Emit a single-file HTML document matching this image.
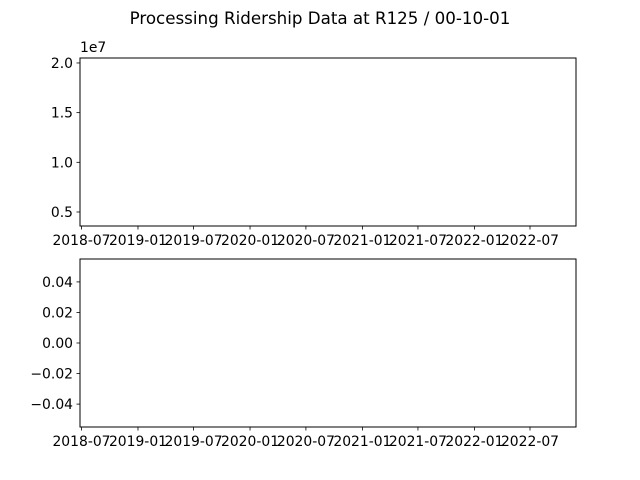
<!DOCTYPE html>
<html><head><meta charset="utf-8"><style>
html,body{margin:0;padding:0;background:#fff;}
svg{display:block;font-family:"DejaVu Sans","Liberation Sans",sans-serif;}
</style></head><body>
<svg id="c" width="640" height="480" xmlns="http://www.w3.org/2000/svg">
<text x="320" y="24" text-anchor="middle" font-size="16.7">Processing Ridership Data at R125 / 00-10-01</text>
<g id="ax1"></g>
<g id="ax2"></g>
</svg>
<script>
const xTickLabels = ["2018-07","2019-01","2019-07","2020-01","2020-07","2021-01","2021-07","2022-01","2022-07"];
const xTickDates = ["2018-07-01","2019-01-01","2019-07-01","2020-01-01","2020-07-01","2021-01-01","2021-07-01","2022-01-01","2022-07-01"];
const topYTicks = [0.5, 1.0, 1.5, 2.0];
const topYTickLabels = ["0.5","1.0","1.5","2.0"];
const botYTicks = [-0.04, -0.02, 0, 0.02, 0.04];
const botYTickLabels = ["\u22120.04","\u22120.02","0.00","0.02","0.04"];
const topSeries = [];
const botSeries = [];

const NS = "http://www.w3.org/2000/svg";
const L = 80, R = 576;
const d0 = Date.parse("2018-07-01"), d1 = Date.parse("2022-07-01");
function xScale(s){ return 81.5 + (Date.parse(s) - d0) / (d1 - d0) * (530 - 81.5); }
function mk(tag, attrs, parent){ const e=document.createElementNS(NS,tag); for(const k in attrs) e.setAttribute(k,attrs[k]); parent.appendChild(e); return e; }

function drawAxes(g, top, bot, ymin, ymax, yt, ytl, prefix){
  const yS = v => bot - (v - ymin) / (ymax - ymin) * (bot - top);
  const frame = mk("rect",{x:L,y:top,width:R-L,height:bot-top,fill:"none",stroke:"#000","stroke-width":1},g);
  
  
  yt.forEach((v,i)=>{
    const y=yS(v);
    const t=mk("line",{x1:L-3.5,x2:L,y1:y,y2:y,stroke:"#000","stroke-width":0.8},g);
    
    
    const tx=mk("text",{x:L-7,y:y+5,"text-anchor":"end","font-size":13.9},g);
    tx.textContent=ytl[i];
    
    
  });
  xTickDates.forEach((d,i)=>{
    const x=xScale(d);
    const t=mk("line",{x1:x,x2:x,y1:bot,y2:bot+3.5,stroke:"#000","stroke-width":0.8},g);
    
    
    const tx=mk("text",{x:x,y:bot+19,"text-anchor":"middle","font-size":13.9},g);
    tx.textContent=xTickLabels[i];
    
    
  });
  return yS;
}
const ys1 = drawAxes(document.getElementById("ax1"), 58, 226, 0.359, 2.05, topYTicks, topYTickLabels, "top");
const off = mk("text",{x:80,y:52,"font-size":13.9},document.getElementById("ax1"));
off.textContent="1e7";


const ys2 = drawAxes(document.getElementById("ax2"), 259, 427, -0.055, 0.055, botYTicks, botYTickLabels, "bottom");
</script>
</body></html>
